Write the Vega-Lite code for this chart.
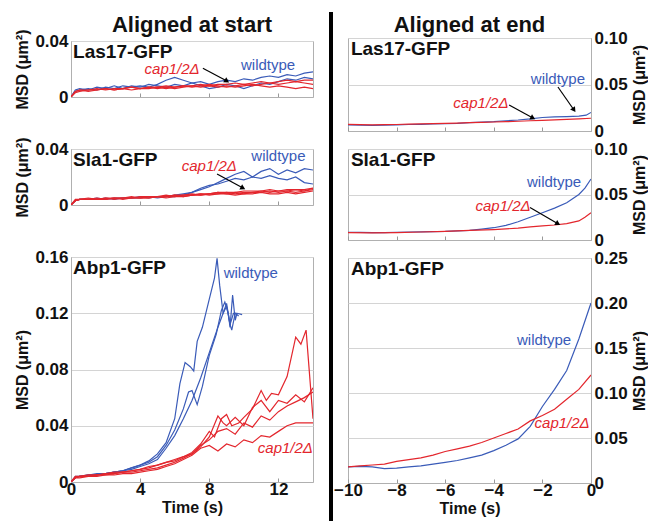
{
"$schema": "https://vega.github.io/schema/vega-lite/v6.json",
"padding": {"left": 14, "top": 12, "right": 0, "bottom": 0},
"background": "white",
"datasets": {
"curves": [
{"panel":"L1","strain":"wildtype","id":"w1","t":0,"msd":0},{"panel":"L1","strain":"wildtype","id":"w1","t":0.25,"msd":0.004},{"panel":"L1","strain":"wildtype","id":"w1","t":0.5,"msd":0.005},{"panel":"L1","strain":"wildtype","id":"w1","t":1,"msd":0.006},{"panel":"L1","strain":"wildtype","id":"w1","t":1.5,"msd":0.005},{"panel":"L1","strain":"wildtype","id":"w1","t":2,"msd":0.007},{"panel":"L1","strain":"wildtype","id":"w1","t":2.5,"msd":0.006},{"panel":"L1","strain":"wildtype","id":"w1","t":3,"msd":0.008},{"panel":"L1","strain":"wildtype","id":"w1","t":3.5,"msd":0.007},{"panel":"L1","strain":"wildtype","id":"w1","t":4,"msd":0.008},{"panel":"L1","strain":"wildtype","id":"w1","t":4.5,"msd":0.007},{"panel":"L1","strain":"wildtype","id":"w1","t":5,"msd":0.009},{"panel":"L1","strain":"wildtype","id":"w1","t":5.5,"msd":0.012},{"panel":"L1","strain":"wildtype","id":"w1","t":6,"msd":0.014},{"panel":"L1","strain":"wildtype","id":"w1","t":6.5,"msd":0.012},{"panel":"L1","strain":"wildtype","id":"w1","t":7,"msd":0.010},{"panel":"L1","strain":"wildtype","id":"w1","t":7.5,"msd":0.011},{"panel":"L1","strain":"wildtype","id":"w1","t":8,"msd":0.009},{"panel":"L1","strain":"wildtype","id":"w1","t":8.5,"msd":0.011},{"panel":"L1","strain":"wildtype","id":"w1","t":9,"msd":0.012},{"panel":"L1","strain":"wildtype","id":"w1","t":9.5,"msd":0.011},{"panel":"L1","strain":"wildtype","id":"w1","t":10,"msd":0.013},{"panel":"L1","strain":"wildtype","id":"w1","t":10.5,"msd":0.012},{"panel":"L1","strain":"wildtype","id":"w1","t":11,"msd":0.014},{"panel":"L1","strain":"wildtype","id":"w1","t":11.5,"msd":0.015},{"panel":"L1","strain":"wildtype","id":"w1","t":12,"msd":0.014},{"panel":"L1","strain":"wildtype","id":"w1","t":12.5,"msd":0.016},{"panel":"L1","strain":"wildtype","id":"w1","t":13,"msd":0.015},{"panel":"L1","strain":"wildtype","id":"w1","t":13.5,"msd":0.017},{"panel":"L1","strain":"wildtype","id":"w1","t":14,"msd":0.018},
{"panel":"L1","strain":"wildtype","id":"w2","t":0,"msd":0},{"panel":"L1","strain":"wildtype","id":"w2","t":0.25,"msd":0.005},{"panel":"L1","strain":"wildtype","id":"w2","t":0.5,"msd":0.006},{"panel":"L1","strain":"wildtype","id":"w2","t":1,"msd":0.005},{"panel":"L1","strain":"wildtype","id":"w2","t":1.5,"msd":0.007},{"panel":"L1","strain":"wildtype","id":"w2","t":2,"msd":0.006},{"panel":"L1","strain":"wildtype","id":"w2","t":2.5,"msd":0.008},{"panel":"L1","strain":"wildtype","id":"w2","t":3,"msd":0.006},{"panel":"L1","strain":"wildtype","id":"w2","t":3.5,"msd":0.008},{"panel":"L1","strain":"wildtype","id":"w2","t":4,"msd":0.007},{"panel":"L1","strain":"wildtype","id":"w2","t":4.5,"msd":0.009},{"panel":"L1","strain":"wildtype","id":"w2","t":5,"msd":0.008},{"panel":"L1","strain":"wildtype","id":"w2","t":5.5,"msd":0.007},{"panel":"L1","strain":"wildtype","id":"w2","t":6,"msd":0.009},{"panel":"L1","strain":"wildtype","id":"w2","t":6.5,"msd":0.008},{"panel":"L1","strain":"wildtype","id":"w2","t":7,"msd":0.010},{"panel":"L1","strain":"wildtype","id":"w2","t":7.5,"msd":0.008},{"panel":"L1","strain":"wildtype","id":"w2","t":8,"msd":0.006},{"panel":"L1","strain":"wildtype","id":"w2","t":8.5,"msd":0.007},{"panel":"L1","strain":"wildtype","id":"w2","t":9,"msd":0.009},{"panel":"L1","strain":"wildtype","id":"w2","t":9.5,"msd":0.008},{"panel":"L1","strain":"wildtype","id":"w2","t":10,"msd":0.006},{"panel":"L1","strain":"wildtype","id":"w2","t":10.5,"msd":0.008},{"panel":"L1","strain":"wildtype","id":"w2","t":11,"msd":0.010},{"panel":"L1","strain":"wildtype","id":"w2","t":11.5,"msd":0.009},{"panel":"L1","strain":"wildtype","id":"w2","t":12,"msd":0.011},{"panel":"L1","strain":"wildtype","id":"w2","t":12.5,"msd":0.013},{"panel":"L1","strain":"wildtype","id":"w2","t":13,"msd":0.012},{"panel":"L1","strain":"wildtype","id":"w2","t":13.5,"msd":0.014},{"panel":"L1","strain":"wildtype","id":"w2","t":14,"msd":0.013},
{"panel":"L1","strain":"cap1/2Δ","id":"r1","t":0,"msd":0},{"panel":"L1","strain":"cap1/2Δ","id":"r1","t":0.25,"msd":0.004},{"panel":"L1","strain":"cap1/2Δ","id":"r1","t":0.5,"msd":0.005},{"panel":"L1","strain":"cap1/2Δ","id":"r1","t":1,"msd":0.005},{"panel":"L1","strain":"cap1/2Δ","id":"r1","t":1.5,"msd":0.006},{"panel":"L1","strain":"cap1/2Δ","id":"r1","t":2,"msd":0.005},{"panel":"L1","strain":"cap1/2Δ","id":"r1","t":2.5,"msd":0.006},{"panel":"L1","strain":"cap1/2Δ","id":"r1","t":3,"msd":0.006},{"panel":"L1","strain":"cap1/2Δ","id":"r1","t":3.5,"msd":0.007},{"panel":"L1","strain":"cap1/2Δ","id":"r1","t":4,"msd":0.006},{"panel":"L1","strain":"cap1/2Δ","id":"r1","t":4.5,"msd":0.007},{"panel":"L1","strain":"cap1/2Δ","id":"r1","t":5,"msd":0.007},{"panel":"L1","strain":"cap1/2Δ","id":"r1","t":5.5,"msd":0.008},{"panel":"L1","strain":"cap1/2Δ","id":"r1","t":6,"msd":0.007},{"panel":"L1","strain":"cap1/2Δ","id":"r1","t":6.5,"msd":0.008},{"panel":"L1","strain":"cap1/2Δ","id":"r1","t":7,"msd":0.008},{"panel":"L1","strain":"cap1/2Δ","id":"r1","t":7.5,"msd":0.009},{"panel":"L1","strain":"cap1/2Δ","id":"r1","t":8,"msd":0.008},{"panel":"L1","strain":"cap1/2Δ","id":"r1","t":8.5,"msd":0.009},{"panel":"L1","strain":"cap1/2Δ","id":"r1","t":9,"msd":0.009},{"panel":"L1","strain":"cap1/2Δ","id":"r1","t":9.5,"msd":0.010},{"panel":"L1","strain":"cap1/2Δ","id":"r1","t":10,"msd":0.009},{"panel":"L1","strain":"cap1/2Δ","id":"r1","t":10.5,"msd":0.010},{"panel":"L1","strain":"cap1/2Δ","id":"r1","t":11,"msd":0.011},{"panel":"L1","strain":"cap1/2Δ","id":"r1","t":11.5,"msd":0.010},{"panel":"L1","strain":"cap1/2Δ","id":"r1","t":12,"msd":0.011},{"panel":"L1","strain":"cap1/2Δ","id":"r1","t":12.5,"msd":0.012},{"panel":"L1","strain":"cap1/2Δ","id":"r1","t":13,"msd":0.011},{"panel":"L1","strain":"cap1/2Δ","id":"r1","t":13.5,"msd":0.012},{"panel":"L1","strain":"cap1/2Δ","id":"r1","t":14,"msd":0.012},
{"panel":"L1","strain":"cap1/2Δ","id":"r2","t":0,"msd":0},{"panel":"L1","strain":"cap1/2Δ","id":"r2","t":0.25,"msd":0.003},{"panel":"L1","strain":"cap1/2Δ","id":"r2","t":0.5,"msd":0.004},{"panel":"L1","strain":"cap1/2Δ","id":"r2","t":1,"msd":0.005},{"panel":"L1","strain":"cap1/2Δ","id":"r2","t":1.5,"msd":0.005},{"panel":"L1","strain":"cap1/2Δ","id":"r2","t":2,"msd":0.006},{"panel":"L1","strain":"cap1/2Δ","id":"r2","t":2.5,"msd":0.005},{"panel":"L1","strain":"cap1/2Δ","id":"r2","t":3,"msd":0.006},{"panel":"L1","strain":"cap1/2Δ","id":"r2","t":3.5,"msd":0.007},{"panel":"L1","strain":"cap1/2Δ","id":"r2","t":4,"msd":0.006},{"panel":"L1","strain":"cap1/2Δ","id":"r2","t":4.5,"msd":0.006},{"panel":"L1","strain":"cap1/2Δ","id":"r2","t":5,"msd":0.007},{"panel":"L1","strain":"cap1/2Δ","id":"r2","t":5.5,"msd":0.006},{"panel":"L1","strain":"cap1/2Δ","id":"r2","t":6,"msd":0.007},{"panel":"L1","strain":"cap1/2Δ","id":"r2","t":6.5,"msd":0.008},{"panel":"L1","strain":"cap1/2Δ","id":"r2","t":7,"msd":0.007},{"panel":"L1","strain":"cap1/2Δ","id":"r2","t":7.5,"msd":0.008},{"panel":"L1","strain":"cap1/2Δ","id":"r2","t":8,"msd":0.009},{"panel":"L1","strain":"cap1/2Δ","id":"r2","t":8.5,"msd":0.008},{"panel":"L1","strain":"cap1/2Δ","id":"r2","t":9,"msd":0.007},{"panel":"L1","strain":"cap1/2Δ","id":"r2","t":9.5,"msd":0.008},{"panel":"L1","strain":"cap1/2Δ","id":"r2","t":10,"msd":0.009},{"panel":"L1","strain":"cap1/2Δ","id":"r2","t":10.5,"msd":0.008},{"panel":"L1","strain":"cap1/2Δ","id":"r2","t":11,"msd":0.009},{"panel":"L1","strain":"cap1/2Δ","id":"r2","t":11.5,"msd":0.010},{"panel":"L1","strain":"cap1/2Δ","id":"r2","t":12,"msd":0.009},{"panel":"L1","strain":"cap1/2Δ","id":"r2","t":12.5,"msd":0.010},{"panel":"L1","strain":"cap1/2Δ","id":"r2","t":13,"msd":0.011},{"panel":"L1","strain":"cap1/2Δ","id":"r2","t":13.5,"msd":0.010},{"panel":"L1","strain":"cap1/2Δ","id":"r2","t":14,"msd":0.009},
{"panel":"L1","strain":"cap1/2Δ","id":"r3","t":0,"msd":0},{"panel":"L1","strain":"cap1/2Δ","id":"r3","t":0.25,"msd":0.004},{"panel":"L1","strain":"cap1/2Δ","id":"r3","t":0.5,"msd":0.005},{"panel":"L1","strain":"cap1/2Δ","id":"r3","t":1,"msd":0.004},{"panel":"L1","strain":"cap1/2Δ","id":"r3","t":1.5,"msd":0.005},{"panel":"L1","strain":"cap1/2Δ","id":"r3","t":2,"msd":0.006},{"panel":"L1","strain":"cap1/2Δ","id":"r3","t":2.5,"msd":0.005},{"panel":"L1","strain":"cap1/2Δ","id":"r3","t":3,"msd":0.006},{"panel":"L1","strain":"cap1/2Δ","id":"r3","t":3.5,"msd":0.005},{"panel":"L1","strain":"cap1/2Δ","id":"r3","t":4,"msd":0.006},{"panel":"L1","strain":"cap1/2Δ","id":"r3","t":4.5,"msd":0.007},{"panel":"L1","strain":"cap1/2Δ","id":"r3","t":5,"msd":0.006},{"panel":"L1","strain":"cap1/2Δ","id":"r3","t":5.5,"msd":0.007},{"panel":"L1","strain":"cap1/2Δ","id":"r3","t":6,"msd":0.006},{"panel":"L1","strain":"cap1/2Δ","id":"r3","t":6.5,"msd":0.007},{"panel":"L1","strain":"cap1/2Δ","id":"r3","t":7,"msd":0.008},{"panel":"L1","strain":"cap1/2Δ","id":"r3","t":7.5,"msd":0.007},{"panel":"L1","strain":"cap1/2Δ","id":"r3","t":8,"msd":0.008},{"panel":"L1","strain":"cap1/2Δ","id":"r3","t":8.5,"msd":0.007},{"panel":"L1","strain":"cap1/2Δ","id":"r3","t":9,"msd":0.008},{"panel":"L1","strain":"cap1/2Δ","id":"r3","t":9.5,"msd":0.007},{"panel":"L1","strain":"cap1/2Δ","id":"r3","t":10,"msd":0.008},{"panel":"L1","strain":"cap1/2Δ","id":"r3","t":10.5,"msd":0.009},{"panel":"L1","strain":"cap1/2Δ","id":"r3","t":11,"msd":0.008},{"panel":"L1","strain":"cap1/2Δ","id":"r3","t":11.5,"msd":0.007},{"panel":"L1","strain":"cap1/2Δ","id":"r3","t":12,"msd":0.008},{"panel":"L1","strain":"cap1/2Δ","id":"r3","t":12.5,"msd":0.007},{"panel":"L1","strain":"cap1/2Δ","id":"r3","t":13,"msd":0.006},{"panel":"L1","strain":"cap1/2Δ","id":"r3","t":13.5,"msd":0.007},{"panel":"L1","strain":"cap1/2Δ","id":"r3","t":14,"msd":0.006},
{"panel":"L2","strain":"wildtype","id":"w1","t":0,"msd":0},{"panel":"L2","strain":"wildtype","id":"w1","t":0.25,"msd":0.003},{"panel":"L2","strain":"wildtype","id":"w1","t":0.5,"msd":0.004},{"panel":"L2","strain":"wildtype","id":"w1","t":1,"msd":0.004},{"panel":"L2","strain":"wildtype","id":"w1","t":1.5,"msd":0.004},{"panel":"L2","strain":"wildtype","id":"w1","t":2,"msd":0.005},{"panel":"L2","strain":"wildtype","id":"w1","t":2.5,"msd":0.004},{"panel":"L2","strain":"wildtype","id":"w1","t":3,"msd":0.005},{"panel":"L2","strain":"wildtype","id":"w1","t":3.5,"msd":0.005},{"panel":"L2","strain":"wildtype","id":"w1","t":4,"msd":0.005},{"panel":"L2","strain":"wildtype","id":"w1","t":4.5,"msd":0.006},{"panel":"L2","strain":"wildtype","id":"w1","t":5,"msd":0.005},{"panel":"L2","strain":"wildtype","id":"w1","t":5.5,"msd":0.006},{"panel":"L2","strain":"wildtype","id":"w1","t":6,"msd":0.006},{"panel":"L2","strain":"wildtype","id":"w1","t":6.5,"msd":0.007},{"panel":"L2","strain":"wildtype","id":"w1","t":7,"msd":0.009},{"panel":"L2","strain":"wildtype","id":"w1","t":7.5,"msd":0.011},{"panel":"L2","strain":"wildtype","id":"w1","t":8,"msd":0.013},{"panel":"L2","strain":"wildtype","id":"w1","t":8.5,"msd":0.016},{"panel":"L2","strain":"wildtype","id":"w1","t":9,"msd":0.019},{"panel":"L2","strain":"wildtype","id":"w1","t":9.5,"msd":0.022},{"panel":"L2","strain":"wildtype","id":"w1","t":10,"msd":0.024},{"panel":"L2","strain":"wildtype","id":"w1","t":10.5,"msd":0.020},{"panel":"L2","strain":"wildtype","id":"w1","t":11,"msd":0.024},{"panel":"L2","strain":"wildtype","id":"w1","t":11.5,"msd":0.026},{"panel":"L2","strain":"wildtype","id":"w1","t":12,"msd":0.022},{"panel":"L2","strain":"wildtype","id":"w1","t":12.5,"msd":0.025},{"panel":"L2","strain":"wildtype","id":"w1","t":13,"msd":0.023},{"panel":"L2","strain":"wildtype","id":"w1","t":13.5,"msd":0.026},{"panel":"L2","strain":"wildtype","id":"w1","t":14,"msd":0.025},
{"panel":"L2","strain":"wildtype","id":"w2","t":0,"msd":0},{"panel":"L2","strain":"wildtype","id":"w2","t":0.25,"msd":0.003},{"panel":"L2","strain":"wildtype","id":"w2","t":0.5,"msd":0.004},{"panel":"L2","strain":"wildtype","id":"w2","t":1,"msd":0.004},{"panel":"L2","strain":"wildtype","id":"w2","t":1.5,"msd":0.005},{"panel":"L2","strain":"wildtype","id":"w2","t":2,"msd":0.004},{"panel":"L2","strain":"wildtype","id":"w2","t":2.5,"msd":0.005},{"panel":"L2","strain":"wildtype","id":"w2","t":3,"msd":0.005},{"panel":"L2","strain":"wildtype","id":"w2","t":3.5,"msd":0.005},{"panel":"L2","strain":"wildtype","id":"w2","t":4,"msd":0.006},{"panel":"L2","strain":"wildtype","id":"w2","t":4.5,"msd":0.005},{"panel":"L2","strain":"wildtype","id":"w2","t":5,"msd":0.006},{"panel":"L2","strain":"wildtype","id":"w2","t":5.5,"msd":0.006},{"panel":"L2","strain":"wildtype","id":"w2","t":6,"msd":0.007},{"panel":"L2","strain":"wildtype","id":"w2","t":6.5,"msd":0.008},{"panel":"L2","strain":"wildtype","id":"w2","t":7,"msd":0.009},{"panel":"L2","strain":"wildtype","id":"w2","t":7.5,"msd":0.012},{"panel":"L2","strain":"wildtype","id":"w2","t":8,"msd":0.014},{"panel":"L2","strain":"wildtype","id":"w2","t":8.5,"msd":0.015},{"panel":"L2","strain":"wildtype","id":"w2","t":9,"msd":0.017},{"panel":"L2","strain":"wildtype","id":"w2","t":9.5,"msd":0.019},{"panel":"L2","strain":"wildtype","id":"w2","t":10,"msd":0.018},{"panel":"L2","strain":"wildtype","id":"w2","t":10.5,"msd":0.020},{"panel":"L2","strain":"wildtype","id":"w2","t":11,"msd":0.019},{"panel":"L2","strain":"wildtype","id":"w2","t":11.5,"msd":0.021},{"panel":"L2","strain":"wildtype","id":"w2","t":12,"msd":0.019},{"panel":"L2","strain":"wildtype","id":"w2","t":12.5,"msd":0.018},{"panel":"L2","strain":"wildtype","id":"w2","t":13,"msd":0.020},{"panel":"L2","strain":"wildtype","id":"w2","t":13.5,"msd":0.016},{"panel":"L2","strain":"wildtype","id":"w2","t":14,"msd":0.015},
{"panel":"L2","strain":"cap1/2Δ","id":"r1","t":0,"msd":0},{"panel":"L2","strain":"cap1/2Δ","id":"r1","t":0.25,"msd":0.003},{"panel":"L2","strain":"cap1/2Δ","id":"r1","t":0.5,"msd":0.004},{"panel":"L2","strain":"cap1/2Δ","id":"r1","t":1,"msd":0.004},{"panel":"L2","strain":"cap1/2Δ","id":"r1","t":1.5,"msd":0.004},{"panel":"L2","strain":"cap1/2Δ","id":"r1","t":2,"msd":0.005},{"panel":"L2","strain":"cap1/2Δ","id":"r1","t":2.5,"msd":0.004},{"panel":"L2","strain":"cap1/2Δ","id":"r1","t":3,"msd":0.005},{"panel":"L2","strain":"cap1/2Δ","id":"r1","t":3.5,"msd":0.005},{"panel":"L2","strain":"cap1/2Δ","id":"r1","t":4,"msd":0.005},{"panel":"L2","strain":"cap1/2Δ","id":"r1","t":4.5,"msd":0.005},{"panel":"L2","strain":"cap1/2Δ","id":"r1","t":5,"msd":0.006},{"panel":"L2","strain":"cap1/2Δ","id":"r1","t":5.5,"msd":0.005},{"panel":"L2","strain":"cap1/2Δ","id":"r1","t":6,"msd":0.006},{"panel":"L2","strain":"cap1/2Δ","id":"r1","t":6.5,"msd":0.006},{"panel":"L2","strain":"cap1/2Δ","id":"r1","t":7,"msd":0.007},{"panel":"L2","strain":"cap1/2Δ","id":"r1","t":7.5,"msd":0.007},{"panel":"L2","strain":"cap1/2Δ","id":"r1","t":8,"msd":0.008},{"panel":"L2","strain":"cap1/2Δ","id":"r1","t":8.5,"msd":0.008},{"panel":"L2","strain":"cap1/2Δ","id":"r1","t":9,"msd":0.009},{"panel":"L2","strain":"cap1/2Δ","id":"r1","t":9.5,"msd":0.008},{"panel":"L2","strain":"cap1/2Δ","id":"r1","t":10,"msd":0.009},{"panel":"L2","strain":"cap1/2Δ","id":"r1","t":10.5,"msd":0.009},{"panel":"L2","strain":"cap1/2Δ","id":"r1","t":11,"msd":0.010},{"panel":"L2","strain":"cap1/2Δ","id":"r1","t":11.5,"msd":0.009},{"panel":"L2","strain":"cap1/2Δ","id":"r1","t":12,"msd":0.010},{"panel":"L2","strain":"cap1/2Δ","id":"r1","t":12.5,"msd":0.010},{"panel":"L2","strain":"cap1/2Δ","id":"r1","t":13,"msd":0.011},{"panel":"L2","strain":"cap1/2Δ","id":"r1","t":13.5,"msd":0.010},{"panel":"L2","strain":"cap1/2Δ","id":"r1","t":14,"msd":0.012},
{"panel":"L2","strain":"cap1/2Δ","id":"r2","t":0,"msd":0},{"panel":"L2","strain":"cap1/2Δ","id":"r2","t":0.25,"msd":0.003},{"panel":"L2","strain":"cap1/2Δ","id":"r2","t":0.5,"msd":0.004},{"panel":"L2","strain":"cap1/2Δ","id":"r2","t":1,"msd":0.005},{"panel":"L2","strain":"cap1/2Δ","id":"r2","t":1.5,"msd":0.004},{"panel":"L2","strain":"cap1/2Δ","id":"r2","t":2,"msd":0.005},{"panel":"L2","strain":"cap1/2Δ","id":"r2","t":2.5,"msd":0.005},{"panel":"L2","strain":"cap1/2Δ","id":"r2","t":3,"msd":0.005},{"panel":"L2","strain":"cap1/2Δ","id":"r2","t":3.5,"msd":0.006},{"panel":"L2","strain":"cap1/2Δ","id":"r2","t":4,"msd":0.005},{"panel":"L2","strain":"cap1/2Δ","id":"r2","t":4.5,"msd":0.006},{"panel":"L2","strain":"cap1/2Δ","id":"r2","t":5,"msd":0.006},{"panel":"L2","strain":"cap1/2Δ","id":"r2","t":5.5,"msd":0.007},{"panel":"L2","strain":"cap1/2Δ","id":"r2","t":6,"msd":0.006},{"panel":"L2","strain":"cap1/2Δ","id":"r2","t":6.5,"msd":0.007},{"panel":"L2","strain":"cap1/2Δ","id":"r2","t":7,"msd":0.008},{"panel":"L2","strain":"cap1/2Δ","id":"r2","t":7.5,"msd":0.007},{"panel":"L2","strain":"cap1/2Δ","id":"r2","t":8,"msd":0.008},{"panel":"L2","strain":"cap1/2Δ","id":"r2","t":8.5,"msd":0.009},{"panel":"L2","strain":"cap1/2Δ","id":"r2","t":9,"msd":0.008},{"panel":"L2","strain":"cap1/2Δ","id":"r2","t":9.5,"msd":0.009},{"panel":"L2","strain":"cap1/2Δ","id":"r2","t":10,"msd":0.008},{"panel":"L2","strain":"cap1/2Δ","id":"r2","t":10.5,"msd":0.009},{"panel":"L2","strain":"cap1/2Δ","id":"r2","t":11,"msd":0.009},{"panel":"L2","strain":"cap1/2Δ","id":"r2","t":11.5,"msd":0.010},{"panel":"L2","strain":"cap1/2Δ","id":"r2","t":12,"msd":0.009},{"panel":"L2","strain":"cap1/2Δ","id":"r2","t":12.5,"msd":0.010},{"panel":"L2","strain":"cap1/2Δ","id":"r2","t":13,"msd":0.009},{"panel":"L2","strain":"cap1/2Δ","id":"r2","t":13.5,"msd":0.010},{"panel":"L2","strain":"cap1/2Δ","id":"r2","t":14,"msd":0.011},
{"panel":"L2","strain":"cap1/2Δ","id":"r3","t":0,"msd":0},{"panel":"L2","strain":"cap1/2Δ","id":"r3","t":0.25,"msd":0.004},{"panel":"L2","strain":"cap1/2Δ","id":"r3","t":0.5,"msd":0.004},{"panel":"L2","strain":"cap1/2Δ","id":"r3","t":1,"msd":0.004},{"panel":"L2","strain":"cap1/2Δ","id":"r3","t":1.5,"msd":0.005},{"panel":"L2","strain":"cap1/2Δ","id":"r3","t":2,"msd":0.004},{"panel":"L2","strain":"cap1/2Δ","id":"r3","t":2.5,"msd":0.005},{"panel":"L2","strain":"cap1/2Δ","id":"r3","t":3,"msd":0.004},{"panel":"L2","strain":"cap1/2Δ","id":"r3","t":3.5,"msd":0.005},{"panel":"L2","strain":"cap1/2Δ","id":"r3","t":4,"msd":0.005},{"panel":"L2","strain":"cap1/2Δ","id":"r3","t":4.5,"msd":0.005},{"panel":"L2","strain":"cap1/2Δ","id":"r3","t":5,"msd":0.006},{"panel":"L2","strain":"cap1/2Δ","id":"r3","t":5.5,"msd":0.006},{"panel":"L2","strain":"cap1/2Δ","id":"r3","t":6,"msd":0.007},{"panel":"L2","strain":"cap1/2Δ","id":"r3","t":6.5,"msd":0.006},{"panel":"L2","strain":"cap1/2Δ","id":"r3","t":7,"msd":0.007},{"panel":"L2","strain":"cap1/2Δ","id":"r3","t":7.5,"msd":0.008},{"panel":"L2","strain":"cap1/2Δ","id":"r3","t":8,"msd":0.007},{"panel":"L2","strain":"cap1/2Δ","id":"r3","t":8.5,"msd":0.008},{"panel":"L2","strain":"cap1/2Δ","id":"r3","t":9,"msd":0.008},{"panel":"L2","strain":"cap1/2Δ","id":"r3","t":9.5,"msd":0.007},{"panel":"L2","strain":"cap1/2Δ","id":"r3","t":10,"msd":0.008},{"panel":"L2","strain":"cap1/2Δ","id":"r3","t":10.5,"msd":0.008},{"panel":"L2","strain":"cap1/2Δ","id":"r3","t":11,"msd":0.009},{"panel":"L2","strain":"cap1/2Δ","id":"r3","t":11.5,"msd":0.008},{"panel":"L2","strain":"cap1/2Δ","id":"r3","t":12,"msd":0.008},{"panel":"L2","strain":"cap1/2Δ","id":"r3","t":12.5,"msd":0.009},{"panel":"L2","strain":"cap1/2Δ","id":"r3","t":13,"msd":0.008},{"panel":"L2","strain":"cap1/2Δ","id":"r3","t":13.5,"msd":0.009},{"panel":"L2","strain":"cap1/2Δ","id":"r3","t":14,"msd":0.010},
{"panel":"L2","strain":"cap1/2Δ","id":"r4","t":0,"msd":0},{"panel":"L2","strain":"cap1/2Δ","id":"r4","t":0.25,"msd":0.003},{"panel":"L2","strain":"cap1/2Δ","id":"r4","t":0.5,"msd":0.004},{"panel":"L2","strain":"cap1/2Δ","id":"r4","t":1,"msd":0.004},{"panel":"L2","strain":"cap1/2Δ","id":"r4","t":1.5,"msd":0.004},{"panel":"L2","strain":"cap1/2Δ","id":"r4","t":2,"msd":0.004},{"panel":"L2","strain":"cap1/2Δ","id":"r4","t":2.5,"msd":0.005},{"panel":"L2","strain":"cap1/2Δ","id":"r4","t":3,"msd":0.005},{"panel":"L2","strain":"cap1/2Δ","id":"r4","t":3.5,"msd":0.005},{"panel":"L2","strain":"cap1/2Δ","id":"r4","t":4,"msd":0.006},{"panel":"L2","strain":"cap1/2Δ","id":"r4","t":4.5,"msd":0.006},{"panel":"L2","strain":"cap1/2Δ","id":"r4","t":5,"msd":0.006},{"panel":"L2","strain":"cap1/2Δ","id":"r4","t":5.5,"msd":0.006},{"panel":"L2","strain":"cap1/2Δ","id":"r4","t":6,"msd":0.007},{"panel":"L2","strain":"cap1/2Δ","id":"r4","t":6.5,"msd":0.007},{"panel":"L2","strain":"cap1/2Δ","id":"r4","t":7,"msd":0.007},{"panel":"L2","strain":"cap1/2Δ","id":"r4","t":7.5,"msd":0.008},{"panel":"L2","strain":"cap1/2Δ","id":"r4","t":8,"msd":0.008},{"panel":"L2","strain":"cap1/2Δ","id":"r4","t":8.5,"msd":0.009},{"panel":"L2","strain":"cap1/2Δ","id":"r4","t":9,"msd":0.009},{"panel":"L2","strain":"cap1/2Δ","id":"r4","t":9.5,"msd":0.009},{"panel":"L2","strain":"cap1/2Δ","id":"r4","t":10,"msd":0.010},{"panel":"L2","strain":"cap1/2Δ","id":"r4","t":10.5,"msd":0.010},{"panel":"L2","strain":"cap1/2Δ","id":"r4","t":11,"msd":0.010},{"panel":"L2","strain":"cap1/2Δ","id":"r4","t":11.5,"msd":0.011},{"panel":"L2","strain":"cap1/2Δ","id":"r4","t":12,"msd":0.010},{"panel":"L2","strain":"cap1/2Δ","id":"r4","t":12.5,"msd":0.011},{"panel":"L2","strain":"cap1/2Δ","id":"r4","t":13,"msd":0.011},{"panel":"L2","strain":"cap1/2Δ","id":"r4","t":13.5,"msd":0.011},{"panel":"L2","strain":"cap1/2Δ","id":"r4","t":14,"msd":0.012},
{"panel":"L3","strain":"wildtype","id":"b1","t":0,"msd":0},{"panel":"L3","strain":"wildtype","id":"b1","t":0.25,"msd":0.003},{"panel":"L3","strain":"wildtype","id":"b1","t":0.5,"msd":0.004},{"panel":"L3","strain":"wildtype","id":"b1","t":1,"msd":0.005},{"panel":"L3","strain":"wildtype","id":"b1","t":1.5,"msd":0.005},{"panel":"L3","strain":"wildtype","id":"b1","t":2,"msd":0.006},{"panel":"L3","strain":"wildtype","id":"b1","t":2.5,"msd":0.007},{"panel":"L3","strain":"wildtype","id":"b1","t":3,"msd":0.008},{"panel":"L3","strain":"wildtype","id":"b1","t":3.5,"msd":0.010},{"panel":"L3","strain":"wildtype","id":"b1","t":4,"msd":0.012},{"panel":"L3","strain":"wildtype","id":"b1","t":4.5,"msd":0.015},{"panel":"L3","strain":"wildtype","id":"b1","t":5,"msd":0.020},{"panel":"L3","strain":"wildtype","id":"b1","t":5.5,"msd":0.028},{"panel":"L3","strain":"wildtype","id":"b1","t":6,"msd":0.045},{"panel":"L3","strain":"wildtype","id":"b1","t":6.3,"msd":0.07},{"panel":"L3","strain":"wildtype","id":"b1","t":6.6,"msd":0.085},{"panel":"L3","strain":"wildtype","id":"b1","t":6.9,"msd":0.082},{"panel":"L3","strain":"wildtype","id":"b1","t":7.1,"msd":0.079},{"panel":"L3","strain":"wildtype","id":"b1","t":7.3,"msd":0.1},{"panel":"L3","strain":"wildtype","id":"b1","t":7.6,"msd":0.11},{"panel":"L3","strain":"wildtype","id":"b1","t":8,"msd":0.13},{"panel":"L3","strain":"wildtype","id":"b1","t":8.3,"msd":0.145},{"panel":"L3","strain":"wildtype","id":"b1","t":8.45,"msd":0.159},{"panel":"L3","strain":"wildtype","id":"b1","t":8.6,"msd":0.14},{"panel":"L3","strain":"wildtype","id":"b1","t":8.8,"msd":0.12},{"panel":"L3","strain":"wildtype","id":"b1","t":9,"msd":0.125},{"panel":"L3","strain":"wildtype","id":"b1","t":9.2,"msd":0.112},{"panel":"L3","strain":"wildtype","id":"b1","t":9.4,"msd":0.12},{"panel":"L3","strain":"wildtype","id":"b1","t":9.6,"msd":0.12},{"panel":"L3","strain":"wildtype","id":"b1","t":9.9,"msd":0.119},
{"panel":"L3","strain":"wildtype","id":"b2","t":0,"msd":0},{"panel":"L3","strain":"wildtype","id":"b2","t":0.25,"msd":0.004},{"panel":"L3","strain":"wildtype","id":"b2","t":0.5,"msd":0.004},{"panel":"L3","strain":"wildtype","id":"b2","t":1,"msd":0.005},{"panel":"L3","strain":"wildtype","id":"b2","t":1.5,"msd":0.006},{"panel":"L3","strain":"wildtype","id":"b2","t":2,"msd":0.006},{"panel":"L3","strain":"wildtype","id":"b2","t":2.5,"msd":0.007},{"panel":"L3","strain":"wildtype","id":"b2","t":3,"msd":0.008},{"panel":"L3","strain":"wildtype","id":"b2","t":3.5,"msd":0.010},{"panel":"L3","strain":"wildtype","id":"b2","t":4,"msd":0.012},{"panel":"L3","strain":"wildtype","id":"b2","t":4.5,"msd":0.014},{"panel":"L3","strain":"wildtype","id":"b2","t":5,"msd":0.018},{"panel":"L3","strain":"wildtype","id":"b2","t":5.5,"msd":0.026},{"panel":"L3","strain":"wildtype","id":"b2","t":6,"msd":0.037},{"panel":"L3","strain":"wildtype","id":"b2","t":6.5,"msd":0.052},{"panel":"L3","strain":"wildtype","id":"b2","t":6.8,"msd":0.064},{"panel":"L3","strain":"wildtype","id":"b2","t":7,"msd":0.065},{"panel":"L3","strain":"wildtype","id":"b2","t":7.3,"msd":0.055},{"panel":"L3","strain":"wildtype","id":"b2","t":7.6,"msd":0.068},{"panel":"L3","strain":"wildtype","id":"b2","t":8,"msd":0.09},{"panel":"L3","strain":"wildtype","id":"b2","t":8.4,"msd":0.105},{"panel":"L3","strain":"wildtype","id":"b2","t":8.7,"msd":0.122},{"panel":"L3","strain":"wildtype","id":"b2","t":8.9,"msd":0.128},{"panel":"L3","strain":"wildtype","id":"b2","t":9.1,"msd":0.12},{"panel":"L3","strain":"wildtype","id":"b2","t":9.2,"msd":0.11},{"panel":"L3","strain":"wildtype","id":"b2","t":9.35,"msd":0.133},{"panel":"L3","strain":"wildtype","id":"b2","t":9.5,"msd":0.115},{"panel":"L3","strain":"wildtype","id":"b2","t":9.6,"msd":0.12},
{"panel":"L3","strain":"wildtype","id":"b3","t":0,"msd":0},{"panel":"L3","strain":"wildtype","id":"b3","t":0.25,"msd":0.003},{"panel":"L3","strain":"wildtype","id":"b3","t":0.5,"msd":0.004},{"panel":"L3","strain":"wildtype","id":"b3","t":1,"msd":0.004},{"panel":"L3","strain":"wildtype","id":"b3","t":1.5,"msd":0.005},{"panel":"L3","strain":"wildtype","id":"b3","t":2,"msd":0.006},{"panel":"L3","strain":"wildtype","id":"b3","t":2.5,"msd":0.007},{"panel":"L3","strain":"wildtype","id":"b3","t":3,"msd":0.008},{"panel":"L3","strain":"wildtype","id":"b3","t":3.5,"msd":0.009},{"panel":"L3","strain":"wildtype","id":"b3","t":4,"msd":0.011},{"panel":"L3","strain":"wildtype","id":"b3","t":4.5,"msd":0.013},{"panel":"L3","strain":"wildtype","id":"b3","t":5,"msd":0.016},{"panel":"L3","strain":"wildtype","id":"b3","t":5.5,"msd":0.024},{"panel":"L3","strain":"wildtype","id":"b3","t":6,"msd":0.033},{"panel":"L3","strain":"wildtype","id":"b3","t":6.5,"msd":0.045},{"panel":"L3","strain":"wildtype","id":"b3","t":7,"msd":0.058},{"panel":"L3","strain":"wildtype","id":"b3","t":7.5,"msd":0.074},{"panel":"L3","strain":"wildtype","id":"b3","t":8,"msd":0.092},{"panel":"L3","strain":"wildtype","id":"b3","t":8.5,"msd":0.11},{"panel":"L3","strain":"wildtype","id":"b3","t":8.8,"msd":0.12},{"panel":"L3","strain":"wildtype","id":"b3","t":9,"msd":0.127},{"panel":"L3","strain":"wildtype","id":"b3","t":9.2,"msd":0.112},{"panel":"L3","strain":"wildtype","id":"b3","t":9.3,"msd":0.108},{"panel":"L3","strain":"wildtype","id":"b3","t":9.5,"msd":0.12},{"panel":"L3","strain":"wildtype","id":"b3","t":9.7,"msd":0.118},
{"panel":"L3","strain":"cap1/2Δ","id":"ra","t":0,"msd":0},{"panel":"L3","strain":"cap1/2Δ","id":"ra","t":0.25,"msd":0.003},{"panel":"L3","strain":"cap1/2Δ","id":"ra","t":0.5,"msd":0.004},{"panel":"L3","strain":"cap1/2Δ","id":"ra","t":1,"msd":0.004},{"panel":"L3","strain":"cap1/2Δ","id":"ra","t":1.5,"msd":0.005},{"panel":"L3","strain":"cap1/2Δ","id":"ra","t":2,"msd":0.006},{"panel":"L3","strain":"cap1/2Δ","id":"ra","t":2.5,"msd":0.006},{"panel":"L3","strain":"cap1/2Δ","id":"ra","t":3,"msd":0.007},{"panel":"L3","strain":"cap1/2Δ","id":"ra","t":3.5,"msd":0.008},{"panel":"L3","strain":"cap1/2Δ","id":"ra","t":4,"msd":0.009},{"panel":"L3","strain":"cap1/2Δ","id":"ra","t":4.5,"msd":0.010},{"panel":"L3","strain":"cap1/2Δ","id":"ra","t":5,"msd":0.012},{"panel":"L3","strain":"cap1/2Δ","id":"ra","t":5.5,"msd":0.014},{"panel":"L3","strain":"cap1/2Δ","id":"ra","t":6,"msd":0.016},{"panel":"L3","strain":"cap1/2Δ","id":"ra","t":6.5,"msd":0.018},{"panel":"L3","strain":"cap1/2Δ","id":"ra","t":7,"msd":0.021},{"panel":"L3","strain":"cap1/2Δ","id":"ra","t":7.5,"msd":0.027},{"panel":"L3","strain":"cap1/2Δ","id":"ra","t":8,"msd":0.036},{"panel":"L3","strain":"cap1/2Δ","id":"ra","t":8.3,"msd":0.032},{"panel":"L3","strain":"cap1/2Δ","id":"ra","t":8.7,"msd":0.045},{"panel":"L3","strain":"cap1/2Δ","id":"ra","t":9,"msd":0.048},{"panel":"L3","strain":"cap1/2Δ","id":"ra","t":9.3,"msd":0.04},{"panel":"L3","strain":"cap1/2Δ","id":"ra","t":9.7,"msd":0.042},{"panel":"L3","strain":"cap1/2Δ","id":"ra","t":10,"msd":0.046},{"panel":"L3","strain":"cap1/2Δ","id":"ra","t":10.5,"msd":0.052},{"panel":"L3","strain":"cap1/2Δ","id":"ra","t":11,"msd":0.065},{"panel":"L3","strain":"cap1/2Δ","id":"ra","t":11.3,"msd":0.058},{"panel":"L3","strain":"cap1/2Δ","id":"ra","t":11.6,"msd":0.063},{"panel":"L3","strain":"cap1/2Δ","id":"ra","t":12,"msd":0.062},{"panel":"L3","strain":"cap1/2Δ","id":"ra","t":12.5,"msd":0.075},{"panel":"L3","strain":"cap1/2Δ","id":"ra","t":13,"msd":0.103},{"panel":"L3","strain":"cap1/2Δ","id":"ra","t":13.3,"msd":0.098},{"panel":"L3","strain":"cap1/2Δ","id":"ra","t":13.6,"msd":0.108},{"panel":"L3","strain":"cap1/2Δ","id":"ra","t":14,"msd":0.045},
{"panel":"L3","strain":"cap1/2Δ","id":"rb","t":0,"msd":0},{"panel":"L3","strain":"cap1/2Δ","id":"rb","t":0.25,"msd":0.004},{"panel":"L3","strain":"cap1/2Δ","id":"rb","t":0.5,"msd":0.004},{"panel":"L3","strain":"cap1/2Δ","id":"rb","t":1,"msd":0.005},{"panel":"L3","strain":"cap1/2Δ","id":"rb","t":1.5,"msd":0.005},{"panel":"L3","strain":"cap1/2Δ","id":"rb","t":2,"msd":0.006},{"panel":"L3","strain":"cap1/2Δ","id":"rb","t":2.5,"msd":0.007},{"panel":"L3","strain":"cap1/2Δ","id":"rb","t":3,"msd":0.007},{"panel":"L3","strain":"cap1/2Δ","id":"rb","t":3.5,"msd":0.008},{"panel":"L3","strain":"cap1/2Δ","id":"rb","t":4,"msd":0.009},{"panel":"L3","strain":"cap1/2Δ","id":"rb","t":4.5,"msd":0.011},{"panel":"L3","strain":"cap1/2Δ","id":"rb","t":5,"msd":0.012},{"panel":"L3","strain":"cap1/2Δ","id":"rb","t":5.5,"msd":0.014},{"panel":"L3","strain":"cap1/2Δ","id":"rb","t":6,"msd":0.015},{"panel":"L3","strain":"cap1/2Δ","id":"rb","t":6.5,"msd":0.018},{"panel":"L3","strain":"cap1/2Δ","id":"rb","t":7,"msd":0.020},{"panel":"L3","strain":"cap1/2Δ","id":"rb","t":7.5,"msd":0.025},{"panel":"L3","strain":"cap1/2Δ","id":"rb","t":8,"msd":0.032},{"panel":"L3","strain":"cap1/2Δ","id":"rb","t":8.5,"msd":0.047},{"panel":"L3","strain":"cap1/2Δ","id":"rb","t":8.8,"msd":0.042},{"panel":"L3","strain":"cap1/2Δ","id":"rb","t":9,"msd":0.04},{"panel":"L3","strain":"cap1/2Δ","id":"rb","t":9.5,"msd":0.046},{"panel":"L3","strain":"cap1/2Δ","id":"rb","t":10,"msd":0.04},{"panel":"L3","strain":"cap1/2Δ","id":"rb","t":10.5,"msd":0.053},{"panel":"L3","strain":"cap1/2Δ","id":"rb","t":11,"msd":0.058},{"panel":"L3","strain":"cap1/2Δ","id":"rb","t":11.5,"msd":0.05},{"panel":"L3","strain":"cap1/2Δ","id":"rb","t":12,"msd":0.058},{"panel":"L3","strain":"cap1/2Δ","id":"rb","t":12.5,"msd":0.056},{"panel":"L3","strain":"cap1/2Δ","id":"rb","t":13,"msd":0.062},{"panel":"L3","strain":"cap1/2Δ","id":"rb","t":13.5,"msd":0.057},{"panel":"L3","strain":"cap1/2Δ","id":"rb","t":14,"msd":0.067},
{"panel":"L3","strain":"cap1/2Δ","id":"rc","t":0,"msd":0},{"panel":"L3","strain":"cap1/2Δ","id":"rc","t":0.25,"msd":0.003},{"panel":"L3","strain":"cap1/2Δ","id":"rc","t":0.5,"msd":0.003},{"panel":"L3","strain":"cap1/2Δ","id":"rc","t":1,"msd":0.004},{"panel":"L3","strain":"cap1/2Δ","id":"rc","t":1.5,"msd":0.005},{"panel":"L3","strain":"cap1/2Δ","id":"rc","t":2,"msd":0.005},{"panel":"L3","strain":"cap1/2Δ","id":"rc","t":2.5,"msd":0.006},{"panel":"L3","strain":"cap1/2Δ","id":"rc","t":3,"msd":0.007},{"panel":"L3","strain":"cap1/2Δ","id":"rc","t":3.5,"msd":0.007},{"panel":"L3","strain":"cap1/2Δ","id":"rc","t":4,"msd":0.008},{"panel":"L3","strain":"cap1/2Δ","id":"rc","t":4.5,"msd":0.009},{"panel":"L3","strain":"cap1/2Δ","id":"rc","t":5,"msd":0.010},{"panel":"L3","strain":"cap1/2Δ","id":"rc","t":5.5,"msd":0.012},{"panel":"L3","strain":"cap1/2Δ","id":"rc","t":6,"msd":0.014},{"panel":"L3","strain":"cap1/2Δ","id":"rc","t":6.5,"msd":0.017},{"panel":"L3","strain":"cap1/2Δ","id":"rc","t":7,"msd":0.020},{"panel":"L3","strain":"cap1/2Δ","id":"rc","t":7.5,"msd":0.026},{"panel":"L3","strain":"cap1/2Δ","id":"rc","t":8,"msd":0.03},{"panel":"L3","strain":"cap1/2Δ","id":"rc","t":8.5,"msd":0.036},{"panel":"L3","strain":"cap1/2Δ","id":"rc","t":9,"msd":0.038},{"panel":"L3","strain":"cap1/2Δ","id":"rc","t":9.5,"msd":0.034},{"panel":"L3","strain":"cap1/2Δ","id":"rc","t":10,"msd":0.042},{"panel":"L3","strain":"cap1/2Δ","id":"rc","t":10.5,"msd":0.039},{"panel":"L3","strain":"cap1/2Δ","id":"rc","t":11,"msd":0.047},{"panel":"L3","strain":"cap1/2Δ","id":"rc","t":11.5,"msd":0.044},{"panel":"L3","strain":"cap1/2Δ","id":"rc","t":12,"msd":0.05},{"panel":"L3","strain":"cap1/2Δ","id":"rc","t":12.5,"msd":0.054},{"panel":"L3","strain":"cap1/2Δ","id":"rc","t":13,"msd":0.057},{"panel":"L3","strain":"cap1/2Δ","id":"rc","t":13.5,"msd":0.06},{"panel":"L3","strain":"cap1/2Δ","id":"rc","t":14,"msd":0.064},
{"panel":"L3","strain":"cap1/2Δ","id":"rd","t":0,"msd":0},{"panel":"L3","strain":"cap1/2Δ","id":"rd","t":0.25,"msd":0.003},{"panel":"L3","strain":"cap1/2Δ","id":"rd","t":0.5,"msd":0.004},{"panel":"L3","strain":"cap1/2Δ","id":"rd","t":1,"msd":0.004},{"panel":"L3","strain":"cap1/2Δ","id":"rd","t":1.5,"msd":0.004},{"panel":"L3","strain":"cap1/2Δ","id":"rd","t":2,"msd":0.005},{"panel":"L3","strain":"cap1/2Δ","id":"rd","t":2.5,"msd":0.005},{"panel":"L3","strain":"cap1/2Δ","id":"rd","t":3,"msd":0.006},{"panel":"L3","strain":"cap1/2Δ","id":"rd","t":3.5,"msd":0.006},{"panel":"L3","strain":"cap1/2Δ","id":"rd","t":4,"msd":0.007},{"panel":"L3","strain":"cap1/2Δ","id":"rd","t":4.5,"msd":0.008},{"panel":"L3","strain":"cap1/2Δ","id":"rd","t":5,"msd":0.009},{"panel":"L3","strain":"cap1/2Δ","id":"rd","t":5.5,"msd":0.011},{"panel":"L3","strain":"cap1/2Δ","id":"rd","t":6,"msd":0.013},{"panel":"L3","strain":"cap1/2Δ","id":"rd","t":6.5,"msd":0.016},{"panel":"L3","strain":"cap1/2Δ","id":"rd","t":7,"msd":0.019},{"panel":"L3","strain":"cap1/2Δ","id":"rd","t":7.5,"msd":0.024},{"panel":"L3","strain":"cap1/2Δ","id":"rd","t":8,"msd":0.026},{"panel":"L3","strain":"cap1/2Δ","id":"rd","t":8.5,"msd":0.022},{"panel":"L3","strain":"cap1/2Δ","id":"rd","t":9,"msd":0.027},{"panel":"L3","strain":"cap1/2Δ","id":"rd","t":9.5,"msd":0.025},{"panel":"L3","strain":"cap1/2Δ","id":"rd","t":10,"msd":0.03},{"panel":"L3","strain":"cap1/2Δ","id":"rd","t":10.5,"msd":0.028},{"panel":"L3","strain":"cap1/2Δ","id":"rd","t":11,"msd":0.033},{"panel":"L3","strain":"cap1/2Δ","id":"rd","t":11.5,"msd":0.032},{"panel":"L3","strain":"cap1/2Δ","id":"rd","t":12,"msd":0.036},{"panel":"L3","strain":"cap1/2Δ","id":"rd","t":12.5,"msd":0.04},{"panel":"L3","strain":"cap1/2Δ","id":"rd","t":13,"msd":0.042},{"panel":"L3","strain":"cap1/2Δ","id":"rd","t":13.5,"msd":0.042},{"panel":"L3","strain":"cap1/2Δ","id":"rd","t":14,"msd":0.042},
{"panel":"R1","strain":"wildtype","id":"w","t":-10,"msd":0.0065},{"panel":"R1","strain":"wildtype","id":"w","t":-9.5,"msd":0.0062},{"panel":"R1","strain":"wildtype","id":"w","t":-9,"msd":0.006},{"panel":"R1","strain":"wildtype","id":"w","t":-8.5,"msd":0.0064},{"panel":"R1","strain":"wildtype","id":"w","t":-8,"msd":0.0066},{"panel":"R1","strain":"wildtype","id":"w","t":-7.5,"msd":0.007},{"panel":"R1","strain":"wildtype","id":"w","t":-7,"msd":0.0072},{"panel":"R1","strain":"wildtype","id":"w","t":-6.5,"msd":0.0075},{"panel":"R1","strain":"wildtype","id":"w","t":-6,"msd":0.008},{"panel":"R1","strain":"wildtype","id":"w","t":-5.5,"msd":0.0083},{"panel":"R1","strain":"wildtype","id":"w","t":-5,"msd":0.009},{"panel":"R1","strain":"wildtype","id":"w","t":-4.5,"msd":0.0095},{"panel":"R1","strain":"wildtype","id":"w","t":-4,"msd":0.010},{"panel":"R1","strain":"wildtype","id":"w","t":-3.5,"msd":0.011},{"panel":"R1","strain":"wildtype","id":"w","t":-3,"msd":0.0118},{"panel":"R1","strain":"wildtype","id":"w","t":-2.5,"msd":0.013},{"panel":"R1","strain":"wildtype","id":"w","t":-2,"msd":0.0145},{"panel":"R1","strain":"wildtype","id":"w","t":-1.5,"msd":0.0152},{"panel":"R1","strain":"wildtype","id":"w","t":-1,"msd":0.0155},{"panel":"R1","strain":"wildtype","id":"w","t":-0.5,"msd":0.016},{"panel":"R1","strain":"wildtype","id":"w","t":-0.2,"msd":0.017},{"panel":"R1","strain":"wildtype","id":"w","t":0,"msd":0.02},
{"panel":"R1","strain":"cap1/2Δ","id":"r","t":-10,"msd":0.0072},{"panel":"R1","strain":"cap1/2Δ","id":"r","t":-9.5,"msd":0.0068},{"panel":"R1","strain":"cap1/2Δ","id":"r","t":-9,"msd":0.0066},{"panel":"R1","strain":"cap1/2Δ","id":"r","t":-8.5,"msd":0.0068},{"panel":"R1","strain":"cap1/2Δ","id":"r","t":-8,"msd":0.007},{"panel":"R1","strain":"cap1/2Δ","id":"r","t":-7.5,"msd":0.0073},{"panel":"R1","strain":"cap1/2Δ","id":"r","t":-7,"msd":0.0076},{"panel":"R1","strain":"cap1/2Δ","id":"r","t":-6.5,"msd":0.008},{"panel":"R1","strain":"cap1/2Δ","id":"r","t":-6,"msd":0.0082},{"panel":"R1","strain":"cap1/2Δ","id":"r","t":-5.5,"msd":0.0085},{"panel":"R1","strain":"cap1/2Δ","id":"r","t":-5,"msd":0.009},{"panel":"R1","strain":"cap1/2Δ","id":"r","t":-4.5,"msd":0.0093},{"panel":"R1","strain":"cap1/2Δ","id":"r","t":-4,"msd":0.0097},{"panel":"R1","strain":"cap1/2Δ","id":"r","t":-3.5,"msd":0.010},{"panel":"R1","strain":"cap1/2Δ","id":"r","t":-3,"msd":0.0105},{"panel":"R1","strain":"cap1/2Δ","id":"r","t":-2.5,"msd":0.011},{"panel":"R1","strain":"cap1/2Δ","id":"r","t":-2,"msd":0.0115},{"panel":"R1","strain":"cap1/2Δ","id":"r","t":-1.5,"msd":0.012},{"panel":"R1","strain":"cap1/2Δ","id":"r","t":-1,"msd":0.0125},{"panel":"R1","strain":"cap1/2Δ","id":"r","t":-0.5,"msd":0.013},{"panel":"R1","strain":"cap1/2Δ","id":"r","t":0,"msd":0.0137},
{"panel":"R2","strain":"wildtype","id":"w","t":-10,"msd":0.0085},{"panel":"R2","strain":"wildtype","id":"w","t":-9.5,"msd":0.0083},{"panel":"R2","strain":"wildtype","id":"w","t":-9,"msd":0.008},{"panel":"R2","strain":"wildtype","id":"w","t":-8.5,"msd":0.0082},{"panel":"R2","strain":"wildtype","id":"w","t":-8,"msd":0.0085},{"panel":"R2","strain":"wildtype","id":"w","t":-7.5,"msd":0.0088},{"panel":"R2","strain":"wildtype","id":"w","t":-7,"msd":0.009},{"panel":"R2","strain":"wildtype","id":"w","t":-6.5,"msd":0.0093},{"panel":"R2","strain":"wildtype","id":"w","t":-6,"msd":0.0095},{"panel":"R2","strain":"wildtype","id":"w","t":-5.5,"msd":0.010},{"panel":"R2","strain":"wildtype","id":"w","t":-5,"msd":0.0105},{"panel":"R2","strain":"wildtype","id":"w","t":-4.5,"msd":0.012},{"panel":"R2","strain":"wildtype","id":"w","t":-4,"msd":0.0135},{"panel":"R2","strain":"wildtype","id":"w","t":-3.5,"msd":0.016},{"panel":"R2","strain":"wildtype","id":"w","t":-3,"msd":0.020},{"panel":"R2","strain":"wildtype","id":"w","t":-2.5,"msd":0.025},{"panel":"R2","strain":"wildtype","id":"w","t":-2,"msd":0.030},{"panel":"R2","strain":"wildtype","id":"w","t":-1.5,"msd":0.035},{"panel":"R2","strain":"wildtype","id":"w","t":-1,"msd":0.041},{"panel":"R2","strain":"wildtype","id":"w","t":-0.5,"msd":0.050},{"panel":"R2","strain":"wildtype","id":"w","t":-0.25,"msd":0.057},{"panel":"R2","strain":"wildtype","id":"w","t":0,"msd":0.067},
{"panel":"R2","strain":"cap1/2Δ","id":"r","t":-10,"msd":0.008},{"panel":"R2","strain":"cap1/2Δ","id":"r","t":-9,"msd":0.0078},{"panel":"R2","strain":"cap1/2Δ","id":"r","t":-8,"msd":0.0082},{"panel":"R2","strain":"cap1/2Δ","id":"r","t":-7,"msd":0.0088},{"panel":"R2","strain":"cap1/2Δ","id":"r","t":-6,"msd":0.0095},{"panel":"R2","strain":"cap1/2Δ","id":"r","t":-5,"msd":0.0105},{"panel":"R2","strain":"cap1/2Δ","id":"r","t":-4,"msd":0.0115},{"panel":"R2","strain":"cap1/2Δ","id":"r","t":-3,"msd":0.013},{"panel":"R2","strain":"cap1/2Δ","id":"r","t":-2.5,"msd":0.0145},{"panel":"R2","strain":"cap1/2Δ","id":"r","t":-2,"msd":0.0155},{"panel":"R2","strain":"cap1/2Δ","id":"r","t":-1.5,"msd":0.0165},{"panel":"R2","strain":"cap1/2Δ","id":"r","t":-1,"msd":0.018},{"panel":"R2","strain":"cap1/2Δ","id":"r","t":-0.5,"msd":0.021},{"panel":"R2","strain":"cap1/2Δ","id":"r","t":-0.25,"msd":0.025},{"panel":"R2","strain":"cap1/2Δ","id":"r","t":0,"msd":0.03},
{"panel":"R3","strain":"wildtype","id":"w","t":-10,"msd":0.018},{"panel":"R3","strain":"wildtype","id":"w","t":-9.5,"msd":0.0185},{"panel":"R3","strain":"wildtype","id":"w","t":-9,"msd":0.018},{"panel":"R3","strain":"wildtype","id":"w","t":-8.5,"msd":0.016},{"panel":"R3","strain":"wildtype","id":"w","t":-8,"msd":0.0165},{"panel":"R3","strain":"wildtype","id":"w","t":-7.5,"msd":0.018},{"panel":"R3","strain":"wildtype","id":"w","t":-7,"msd":0.019},{"panel":"R3","strain":"wildtype","id":"w","t":-6.5,"msd":0.021},{"panel":"R3","strain":"wildtype","id":"w","t":-6,"msd":0.023},{"panel":"R3","strain":"wildtype","id":"w","t":-5.5,"msd":0.025},{"panel":"R3","strain":"wildtype","id":"w","t":-5,"msd":0.028},{"panel":"R3","strain":"wildtype","id":"w","t":-4.5,"msd":0.031},{"panel":"R3","strain":"wildtype","id":"w","t":-4,"msd":0.036},{"panel":"R3","strain":"wildtype","id":"w","t":-3.5,"msd":0.042},{"panel":"R3","strain":"wildtype","id":"w","t":-3,"msd":0.049},{"panel":"R3","strain":"wildtype","id":"w","t":-2.5,"msd":0.063},{"panel":"R3","strain":"wildtype","id":"w","t":-2,"msd":0.085},{"panel":"R3","strain":"wildtype","id":"w","t":-1.5,"msd":0.104},{"panel":"R3","strain":"wildtype","id":"w","t":-1,"msd":0.125},{"panel":"R3","strain":"wildtype","id":"w","t":-0.5,"msd":0.16},{"panel":"R3","strain":"wildtype","id":"w","t":0,"msd":0.2},
{"panel":"R3","strain":"cap1/2Δ","id":"r","t":-10,"msd":0.018},{"panel":"R3","strain":"cap1/2Δ","id":"r","t":-9.5,"msd":0.019},{"panel":"R3","strain":"cap1/2Δ","id":"r","t":-9,"msd":0.020},{"panel":"R3","strain":"cap1/2Δ","id":"r","t":-8.5,"msd":0.021},{"panel":"R3","strain":"cap1/2Δ","id":"r","t":-8,"msd":0.024},{"panel":"R3","strain":"cap1/2Δ","id":"r","t":-7.5,"msd":0.026},{"panel":"R3","strain":"cap1/2Δ","id":"r","t":-7,"msd":0.028},{"panel":"R3","strain":"cap1/2Δ","id":"r","t":-6.5,"msd":0.031},{"panel":"R3","strain":"cap1/2Δ","id":"r","t":-6,"msd":0.035},{"panel":"R3","strain":"cap1/2Δ","id":"r","t":-5.5,"msd":0.038},{"panel":"R3","strain":"cap1/2Δ","id":"r","t":-5,"msd":0.041},{"panel":"R3","strain":"cap1/2Δ","id":"r","t":-4.5,"msd":0.045},{"panel":"R3","strain":"cap1/2Δ","id":"r","t":-4,"msd":0.05},{"panel":"R3","strain":"cap1/2Δ","id":"r","t":-3.5,"msd":0.055},{"panel":"R3","strain":"cap1/2Δ","id":"r","t":-3,"msd":0.06},{"panel":"R3","strain":"cap1/2Δ","id":"r","t":-2.5,"msd":0.069},{"panel":"R3","strain":"cap1/2Δ","id":"r","t":-2,"msd":0.075},{"panel":"R3","strain":"cap1/2Δ","id":"r","t":-1.5,"msd":0.082},{"panel":"R3","strain":"cap1/2Δ","id":"r","t":-1,"msd":0.093},{"panel":"R3","strain":"cap1/2Δ","id":"r","t":-0.5,"msd":0.104},{"panel":"R3","strain":"cap1/2Δ","id":"r","t":0,"msd":0.12}
],
"notes": [
{"panel":"L1","kind":"wt","label":"wildtype","t":11.4,"msd":0.0229},
{"panel":"L1","kind":"cap","label":"cap1/2Δ","t":5.85,"msd":0.0198},
{"panel":"L1","kind":"name","label":"Las17-GFP","t":0.12,"msd":0.04},
{"panel":"L2","kind":"wt","label":"wildtype","t":12.0,"msd":0.035},
{"panel":"L2","kind":"cap","label":"cap1/2Δ","t":8.0,"msd":0.0279},
{"panel":"L2","kind":"name","label":"Sla1-GFP","t":0.12,"msd":0.04},
{"panel":"L3","kind":"wt","label":"wildtype","t":10.4,"msd":0.1486},
{"panel":"L3","kind":"cap","label":"cap1/2Δ","t":12.4,"msd":0.0242},
{"panel":"L3","kind":"name","label":"Abp1-GFP","t":0.12,"msd":0.16},
{"panel":"R1","kind":"wt","label":"wildtype","t":-1.36,"msd":0.0559},
{"panel":"R1","kind":"cap","label":"cap1/2Δ","t":-4.53,"msd":0.030},
{"panel":"R1","kind":"name","label":"Las17-GFP","t":-9.88,"msd":0.1},
{"panel":"R2","kind":"wt","label":"wildtype","t":-1.52,"msd":0.0633},
{"panel":"R2","kind":"cap","label":"cap1/2Δ","t":-3.62,"msd":0.0378},
{"panel":"R2","kind":"name","label":"Sla1-GFP","t":-9.88,"msd":0.1},
{"panel":"R3","kind":"wt","label":"wildtype","t":-1.93,"msd":0.159},
{"panel":"R3","kind":"cap","label":"cap1/2Δ","t":-1.19,"msd":0.0667},
{"panel":"R3","kind":"name","label":"Abp1-GFP","t":-9.88,"msd":0.25}
],
"arrows": [
{"panel":"L1","id":"A1","t":7.63,"msd":0.0205,"t2":9.02,"msd2":0.0114},
{"panel":"L2","id":"A2","t":8.45,"msd":0.0221,"t2":9.95,"msd2":0.0121},
{"panel":"R1","id":"A3","t":-1.36,"msd":0.0473,"t2":-0.7,"msd2":0.0226},
{"panel":"R1","id":"A4","t":-3.37,"msd":0.028,"t2":-2.39,"msd2":0.014},
{"panel":"R2","id":"A5","t":-2.51,"msd":0.0356,"t2":-1.36,"msd2":0.0178}
]
},
"hconcat": [
{"vconcat": [
 {"width": 242, "height": 26, "view": {"stroke": null},
  "data": {"values": [{"column": "Aligned at start"}]},
  "mark": {"type": "text", "font": "Liberation Sans", "fontSize": 22, "fontWeight": "bold", "color": "#111", "baseline": "middle"},
  "encoding": {"text": {"field": "column"}}},
 {"vconcat": [
 {"width": 242, "height": 56,
  "layer": [
   {"data": {"name": "curves"}, "transform": [{"filter": "datum.panel == 'L1'"}],
    "mark": {"type": "line", "strokeWidth": 1.2, "clip": true},
    "encoding": {
     "x": {"field": "t", "type": "quantitative", "scale": {"domain": [0, 14], "nice": false}, "axis": {"values": [0,2,4,6,8,10,12,14], "labels": false, "title": null, "tickSize": -4, "grid": false}},
     "y": {"field": "msd", "type": "quantitative", "scale": {"domain": [0, 0.04], "nice": false}, "axis": {"values": [0, 0.02, 0.04], "labelExpr": "datum.value == 0 ? '0' : (abs(datum.value - 0.02) < 0.001 ? '' : format(datum.value, '.2f'))", "title": "MSD (μm²)", "grid": true, "ticks": false}},
     "detail": {"field": "id"},
     "color": {"field": "strain", "type": "nominal", "scale": {"domain": ["wildtype", "cap1/2Δ"], "range": ["#3a5bb8", "#e3262d"]}, "legend": null}}},
   {"data": {"name": "notes"}, "transform": [{"filter": "datum.panel == 'L1' && datum.kind == 'wt'"}],
    "mark": {"type": "text", "font": "Liberation Sans", "fontSize": 15, "color": "#3a5bb8"},
    "encoding": {"x": {"field": "t", "type": "quantitative"}, "y": {"field": "msd", "type": "quantitative"}, "text": {"field": "label"}}},
   {"data": {"name": "notes"}, "transform": [{"filter": "datum.panel == 'L1' && datum.kind == 'cap'"}],
    "mark": {"type": "text", "font": "Liberation Sans", "fontSize": 15, "fontStyle": "italic", "color": "#e3262d"},
    "encoding": {"x": {"field": "t", "type": "quantitative"}, "y": {"field": "msd", "type": "quantitative"}, "text": {"field": "label"}}},
   {"data": {"name": "notes"}, "transform": [{"filter": "datum.panel == 'L1' && datum.kind == 'name'"}],
    "mark": {"type": "text", "font": "Liberation Sans", "fontSize": 19, "fontWeight": "bold", "color": "#111", "align": "left", "baseline": "top", "dy": 2},
    "encoding": {"x": {"field": "t", "type": "quantitative"}, "y": {"field": "msd", "type": "quantitative"}, "text": {"field": "label"}}},
   {"data": {"name": "arrows"}, "transform": [{"filter": "datum.id == 'A1'"}],
    "mark": {"type": "rule", "color": "black", "strokeWidth": 1.2},
    "encoding": {"x": {"field": "t", "type": "quantitative"}, "y": {"field": "msd", "type": "quantitative"}, "x2": {"field": "t2"}, "y2": {"field": "msd2"}}},
   {"data": {"name": "arrows"}, "transform": [{"filter": "datum.id == 'A1'"}],
    "mark": {"type": "point", "shape": "triangle-up", "filled": true, "color": "black", "opacity": 1, "size": 35, "angle": 122},
    "encoding": {"x": {"field": "t2", "type": "quantitative"}, "y": {"field": "msd2", "type": "quantitative"}}}
  ]},
 {"width": 242, "height": 56,
  "layer": [
   {"data": {"name": "curves"}, "transform": [{"filter": "datum.panel == 'L2'"}],
    "mark": {"type": "line", "strokeWidth": 1.2, "clip": true},
    "encoding": {
     "x": {"field": "t", "type": "quantitative", "scale": {"domain": [0, 14], "nice": false}, "axis": {"values": [0,2,4,6,8,10,12,14], "labels": false, "title": null, "tickSize": -4, "grid": false}},
     "y": {"field": "msd", "type": "quantitative", "scale": {"domain": [0, 0.04], "nice": false}, "axis": {"values": [0, 0.02, 0.04], "labelExpr": "datum.value == 0 ? '0' : (abs(datum.value - 0.02) < 0.001 ? '' : format(datum.value, '.2f'))", "title": "MSD (μm²)", "grid": true, "ticks": false}},
     "detail": {"field": "id"},
     "color": {"field": "strain", "type": "nominal", "scale": {"domain": ["wildtype", "cap1/2Δ"], "range": ["#3a5bb8", "#e3262d"]}, "legend": null}}},
   {"data": {"name": "notes"}, "transform": [{"filter": "datum.panel == 'L2' && datum.kind == 'wt'"}],
    "mark": {"type": "text", "font": "Liberation Sans", "fontSize": 15, "color": "#3a5bb8"},
    "encoding": {"x": {"field": "t", "type": "quantitative"}, "y": {"field": "msd", "type": "quantitative"}, "text": {"field": "label"}}},
   {"data": {"name": "notes"}, "transform": [{"filter": "datum.panel == 'L2' && datum.kind == 'cap'"}],
    "mark": {"type": "text", "font": "Liberation Sans", "fontSize": 15, "fontStyle": "italic", "color": "#e3262d"},
    "encoding": {"x": {"field": "t", "type": "quantitative"}, "y": {"field": "msd", "type": "quantitative"}, "text": {"field": "label"}}},
   {"data": {"name": "notes"}, "transform": [{"filter": "datum.panel == 'L2' && datum.kind == 'name'"}],
    "mark": {"type": "text", "font": "Liberation Sans", "fontSize": 19, "fontWeight": "bold", "color": "#111", "align": "left", "baseline": "top", "dy": 2},
    "encoding": {"x": {"field": "t", "type": "quantitative"}, "y": {"field": "msd", "type": "quantitative"}, "text": {"field": "label"}}},
   {"data": {"name": "arrows"}, "transform": [{"filter": "datum.id == 'A2'"}],
    "mark": {"type": "rule", "color": "black", "strokeWidth": 1.2},
    "encoding": {"x": {"field": "t", "type": "quantitative"}, "y": {"field": "msd", "type": "quantitative"}, "x2": {"field": "t2"}, "y2": {"field": "msd2"}}},
   {"data": {"name": "arrows"}, "transform": [{"filter": "datum.id == 'A2'"}],
    "mark": {"type": "point", "shape": "triangle-up", "filled": true, "color": "black", "opacity": 1, "size": 35, "angle": 118},
    "encoding": {"x": {"field": "t2", "type": "quantitative"}, "y": {"field": "msd2", "type": "quantitative"}}}
  ]},
 {"width": 242, "height": 225,
  "layer": [
   {"data": {"name": "curves"}, "transform": [{"filter": "datum.panel == 'L3'"}],
    "mark": {"type": "line", "strokeWidth": 1.2, "clip": true},
    "encoding": {
     "x": {"field": "t", "type": "quantitative", "scale": {"domain": [0, 14], "nice": false}, "axis": {"values": [0,2,4,6,8,10,12,14], "labelExpr": "datum.value % 4 == 0 ? datum.label : ''", "title": "Time (s)", "tickSize": -4, "grid": false, "titlePadding": 2}},
     "y": {"field": "msd", "type": "quantitative", "scale": {"domain": [0, 0.16], "nice": false}, "axis": {"values": [0, 0.02, 0.04, 0.06, 0.08, 0.1, 0.12, 0.14, 0.16], "labelExpr": "datum.value == 0 ? '0' : (round(datum.value * 100) % 4 == 0 ? format(datum.value, '.2f') : '')", "title": "MSD (μm²)", "grid": true, "ticks": false}},
     "detail": {"field": "id"},
     "color": {"field": "strain", "type": "nominal", "scale": {"domain": ["wildtype", "cap1/2Δ"], "range": ["#3a5bb8", "#e3262d"]}, "legend": null}}},
   {"data": {"name": "notes"}, "transform": [{"filter": "datum.panel == 'L3' && datum.kind == 'wt'"}],
    "mark": {"type": "text", "font": "Liberation Sans", "fontSize": 15, "color": "#3a5bb8"},
    "encoding": {"x": {"field": "t", "type": "quantitative"}, "y": {"field": "msd", "type": "quantitative"}, "text": {"field": "label"}}},
   {"data": {"name": "notes"}, "transform": [{"filter": "datum.panel == 'L3' && datum.kind == 'cap'"}],
    "mark": {"type": "text", "font": "Liberation Sans", "fontSize": 15, "fontStyle": "italic", "color": "#e3262d"},
    "encoding": {"x": {"field": "t", "type": "quantitative"}, "y": {"field": "msd", "type": "quantitative"}, "text": {"field": "label"}}},
   {"data": {"name": "notes"}, "transform": [{"filter": "datum.panel == 'L3' && datum.kind == 'name'"}],
    "mark": {"type": "text", "font": "Liberation Sans", "fontSize": 19, "fontWeight": "bold", "color": "#111", "align": "left", "baseline": "top", "dy": 2},
    "encoding": {"x": {"field": "t", "type": "quantitative"}, "y": {"field": "msd", "type": "quantitative"}, "text": {"field": "label"}}}
  ]}
 ], "spacing": 52, "bounds": "flush"}
 ], "spacing": 3, "bounds": "flush"},
{"hconcat": [
 {"width": 4, "height": 509, "view": {"fill": "black", "stroke": null},
  "data": {"values": [{"part": "divider"}]},
  "mark": {"type": "rect", "color": "black"},
  "encoding": {}},
 {"vconcat": [
  {"width": 243, "height": 26, "view": {"stroke": null},
   "data": {"values": [{"column": "Aligned at end"}]},
   "mark": {"type": "text", "font": "Liberation Sans", "fontSize": 22, "fontWeight": "bold", "color": "#111", "baseline": "middle"},
   "encoding": {"text": {"field": "column"}}},
  {"vconcat": [
  {"width": 243, "height": 93,
   "layer": [
    {"data": {"name": "curves"}, "transform": [{"filter": "datum.panel == 'R1'"}],
     "mark": {"type": "line", "strokeWidth": 1.2, "clip": true},
     "encoding": {
      "x": {"field": "t", "type": "quantitative", "scale": {"domain": [-10, 0], "nice": false}, "axis": {"values": [-10,-9,-8,-7,-6,-5,-4,-3,-2,-1,0], "labels": false, "title": null, "tickSize": -4, "grid": false}},
      "y": {"field": "msd", "type": "quantitative", "scale": {"domain": [0, 0.1], "nice": false}, "axis": {"orient": "right", "values": [0, 0.05, 0.1], "labelExpr": "datum.value == 0 ? '0' : format(datum.value, '.2f')", "title": "MSD (μm²)", "titleAngle": 270, "titleBaseline": "top", "grid": true, "ticks": false}},
      "detail": {"field": "id"},
      "color": {"field": "strain", "type": "nominal", "scale": {"domain": ["wildtype", "cap1/2Δ"], "range": ["#3a5bb8", "#e3262d"]}, "legend": null}}},
    {"data": {"name": "notes"}, "transform": [{"filter": "datum.panel == 'R1' && datum.kind == 'wt'"}],
     "mark": {"type": "text", "font": "Liberation Sans", "fontSize": 15, "color": "#3a5bb8"},
     "encoding": {"x": {"field": "t", "type": "quantitative"}, "y": {"field": "msd", "type": "quantitative"}, "text": {"field": "label"}}},
    {"data": {"name": "notes"}, "transform": [{"filter": "datum.panel == 'R1' && datum.kind == 'cap'"}],
     "mark": {"type": "text", "font": "Liberation Sans", "fontSize": 15, "fontStyle": "italic", "color": "#e3262d"},
     "encoding": {"x": {"field": "t", "type": "quantitative"}, "y": {"field": "msd", "type": "quantitative"}, "text": {"field": "label"}}},
    {"data": {"name": "notes"}, "transform": [{"filter": "datum.panel == 'R1' && datum.kind == 'name'"}],
     "mark": {"type": "text", "font": "Liberation Sans", "fontSize": 19, "fontWeight": "bold", "color": "#111", "align": "left", "baseline": "top", "dy": 2},
     "encoding": {"x": {"field": "t", "type": "quantitative"}, "y": {"field": "msd", "type": "quantitative"}, "text": {"field": "label"}}},
    {"data": {"name": "arrows"}, "transform": [{"filter": "datum.panel == 'R1'"}],
     "mark": {"type": "rule", "color": "black", "strokeWidth": 1.2},
     "encoding": {"x": {"field": "t", "type": "quantitative"}, "y": {"field": "msd", "type": "quantitative"}, "x2": {"field": "t2"}, "y2": {"field": "msd2"}}},
    {"data": {"name": "arrows"}, "transform": [{"filter": "datum.id == 'A3'"}],
     "mark": {"type": "point", "shape": "triangle-up", "filled": true, "color": "black", "opacity": 1, "size": 35, "angle": 145},
     "encoding": {"x": {"field": "t2", "type": "quantitative"}, "y": {"field": "msd2", "type": "quantitative"}}},
    {"data": {"name": "arrows"}, "transform": [{"filter": "datum.id == 'A4'"}],
     "mark": {"type": "point", "shape": "triangle-up", "filled": true, "color": "black", "opacity": 1, "size": 35, "angle": 118},
     "encoding": {"x": {"field": "t2", "type": "quantitative"}, "y": {"field": "msd2", "type": "quantitative"}}}
   ]},
  {"width": 243, "height": 91,
   "layer": [
    {"data": {"name": "curves"}, "transform": [{"filter": "datum.panel == 'R2'"}],
     "mark": {"type": "line", "strokeWidth": 1.2, "clip": true},
     "encoding": {
      "x": {"field": "t", "type": "quantitative", "scale": {"domain": [-10, 0], "nice": false}, "axis": {"values": [-10,-9,-8,-7,-6,-5,-4,-3,-2,-1,0], "labels": false, "title": null, "tickSize": -4, "grid": false}},
      "y": {"field": "msd", "type": "quantitative", "scale": {"domain": [0, 0.1], "nice": false}, "axis": {"orient": "right", "values": [0, 0.05, 0.1], "labelExpr": "datum.value == 0 ? '0' : format(datum.value, '.2f')", "title": "MSD (μm²)", "titleAngle": 270, "titleBaseline": "top", "grid": true, "ticks": false}},
      "detail": {"field": "id"},
      "color": {"field": "strain", "type": "nominal", "scale": {"domain": ["wildtype", "cap1/2Δ"], "range": ["#3a5bb8", "#e3262d"]}, "legend": null}}},
    {"data": {"name": "notes"}, "transform": [{"filter": "datum.panel == 'R2' && datum.kind == 'wt'"}],
     "mark": {"type": "text", "font": "Liberation Sans", "fontSize": 15, "color": "#3a5bb8"},
     "encoding": {"x": {"field": "t", "type": "quantitative"}, "y": {"field": "msd", "type": "quantitative"}, "text": {"field": "label"}}},
    {"data": {"name": "notes"}, "transform": [{"filter": "datum.panel == 'R2' && datum.kind == 'cap'"}],
     "mark": {"type": "text", "font": "Liberation Sans", "fontSize": 15, "fontStyle": "italic", "color": "#e3262d"},
     "encoding": {"x": {"field": "t", "type": "quantitative"}, "y": {"field": "msd", "type": "quantitative"}, "text": {"field": "label"}}},
    {"data": {"name": "notes"}, "transform": [{"filter": "datum.panel == 'R2' && datum.kind == 'name'"}],
     "mark": {"type": "text", "font": "Liberation Sans", "fontSize": 19, "fontWeight": "bold", "color": "#111", "align": "left", "baseline": "top", "dy": 2},
     "encoding": {"x": {"field": "t", "type": "quantitative"}, "y": {"field": "msd", "type": "quantitative"}, "text": {"field": "label"}}},
    {"data": {"name": "arrows"}, "transform": [{"filter": "datum.id == 'A5'"}],
     "mark": {"type": "rule", "color": "black", "strokeWidth": 1.2},
     "encoding": {"x": {"field": "t", "type": "quantitative"}, "y": {"field": "msd", "type": "quantitative"}, "x2": {"field": "t2"}, "y2": {"field": "msd2"}}},
    {"data": {"name": "arrows"}, "transform": [{"filter": "datum.id == 'A5'"}],
     "mark": {"type": "point", "shape": "triangle-up", "filled": true, "color": "black", "opacity": 1, "size": 35, "angle": 120},
     "encoding": {"x": {"field": "t2", "type": "quantitative"}, "y": {"field": "msd2", "type": "quantitative"}}}
   ]},
  {"width": 243, "height": 225,
   "layer": [
    {"data": {"name": "curves"}, "transform": [{"filter": "datum.panel == 'R3'"}],
     "mark": {"type": "line", "strokeWidth": 1.2, "clip": true},
     "encoding": {
      "x": {"field": "t", "type": "quantitative", "scale": {"domain": [-10, 0], "nice": false}, "axis": {"values": [-10,-9,-8,-7,-6,-5,-4,-3,-2,-1,0], "labelExpr": "datum.value % 2 == 0 ? datum.label : ''", "title": "Time (s)", "tickSize": -4, "grid": false, "titlePadding": 2}},
      "y": {"field": "msd", "type": "quantitative", "scale": {"domain": [0, 0.25], "nice": false}, "axis": {"orient": "right", "values": [0, 0.05, 0.1, 0.15, 0.2, 0.25], "labelExpr": "datum.value == 0 ? '0' : format(datum.value, '.2f')", "title": "MSD (μm²)", "titleAngle": 270, "titleBaseline": "top", "grid": true, "ticks": false}},
      "detail": {"field": "id"},
      "color": {"field": "strain", "type": "nominal", "scale": {"domain": ["wildtype", "cap1/2Δ"], "range": ["#3a5bb8", "#e3262d"]}, "legend": null}}},
    {"data": {"name": "notes"}, "transform": [{"filter": "datum.panel == 'R3' && datum.kind == 'wt'"}],
     "mark": {"type": "text", "font": "Liberation Sans", "fontSize": 15, "color": "#3a5bb8"},
     "encoding": {"x": {"field": "t", "type": "quantitative"}, "y": {"field": "msd", "type": "quantitative"}, "text": {"field": "label"}}},
    {"data": {"name": "notes"}, "transform": [{"filter": "datum.panel == 'R3' && datum.kind == 'cap'"}],
     "mark": {"type": "text", "font": "Liberation Sans", "fontSize": 15, "fontStyle": "italic", "color": "#e3262d"},
     "encoding": {"x": {"field": "t", "type": "quantitative"}, "y": {"field": "msd", "type": "quantitative"}, "text": {"field": "label"}}},
    {"data": {"name": "notes"}, "transform": [{"filter": "datum.panel == 'R3' && datum.kind == 'name'"}],
     "mark": {"type": "text", "font": "Liberation Sans", "fontSize": 19, "fontWeight": "bold", "color": "#111", "align": "left", "baseline": "top", "dy": 2},
     "encoding": {"x": {"field": "t", "type": "quantitative"}, "y": {"field": "msd", "type": "quantitative"}, "text": {"field": "label"}}}
   ]}
  ], "spacing": 18, "bounds": "flush"}
 ], "spacing": 0, "bounds": "flush"}
 ], "spacing": 0}
],
"spacing": 15,
"config": {
 "font": "Liberation Sans",
 "view": {"stroke": "#b0b0b0"},
 "axis": {"labelFont": "Liberation Sans", "labelFontSize": 17, "labelFontWeight": "bold", "labelColor": "#111", "titleFont": "Liberation Sans", "titleFontSize": 16, "titleFontWeight": "bold", "titleColor": "#111", "domainColor": "#b0b0b0", "tickColor": "#999999", "gridColor": "#d4d4d4", "labelFlush": false, "labelOverlap": false, "labelPadding": 3, "titlePadding": 4}
}
}
